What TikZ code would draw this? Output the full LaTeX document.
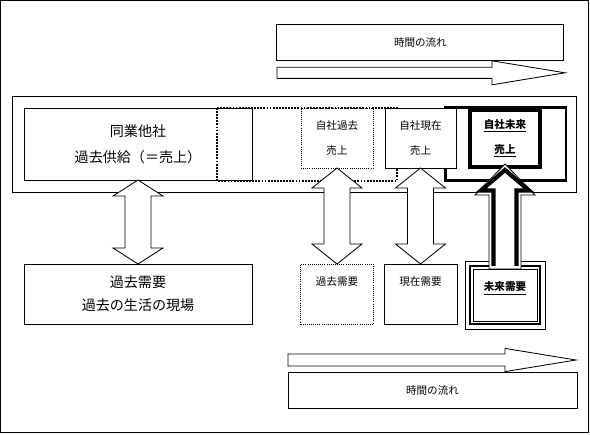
\documentclass[tikz,border=0pt]{standalone}
\usepackage{fontspec}
\setmainfont{Noto Sans CJK JP}
\usepackage{tikz}
\usetikzlibrary{calc}

% two-headed block arrow: upper tip, lower tip, head length
\newcommand{\twoway}[3]{%
  \draw[blockarrow] (#1) -- ($(#1)+(0.625,-#3)$) -- ($(#1)+(0.325,-#3)$)
    -- ($(#2)+(0.325,#3)$) -- ($(#2)+(0.625,#3)$) -- (#2)
    -- ($(#2)+(-0.625,#3)$) -- ($(#2)+(-0.325,#3)$)
    -- ($(#1)+(-0.325,-#3)$) -- ($(#1)+(-0.625,-#3)$) -- cycle;}

\begin{document}
\begin{tikzpicture}[
    font=\fontsize{7.5}{17.8}\selectfont,
    box/.style={draw, line width=0.6pt, fill=white, inner sep=0pt, outer sep=0pt, align=center},
    dotbox/.style={draw, line width=0.5pt, densely dotted, inner sep=0pt, outer sep=0pt, align=center},
    toptext/.style={text height=15.6pt, text depth=#1},
    blockarrow/.style={draw, line width=0.6pt, fill=white, line join=miter}
]
    \useasboundingbox (0,0) rectangle (14.75,-10.85);
    \draw[line width=0.6pt] (0.0125,-0.0125) rectangle (14.7,-10.8);

    % Time flow (top)
    \node[box, minimum width=7.175cm, minimum height=0.9cm] (ttop) at (10.51,-1.05) {時間の流れ};
    \draw[blockarrow] (6.925,-1.68) -- (12.3,-1.68) -- (12.3,-1.52) -- (14.125,-1.82)
        -- (12.3,-2.12) -- (12.3,-1.96) -- (6.925,-1.96) -- cycle;

    % Supply side
    \draw[line width=0.6pt] (0.3,-2.4125) rectangle (14.4,-4.8);
    \node[box, minimum width=5.7cm, minimum height=1.8cm, font=\fontsize{10}{18.5}\selectfont] (osha) at (3.45,-3.6) {同業他社\\過去供給（＝売上）};
    \draw[line width=2.1pt] (11.1375,-2.6875) rectangle (14.15,-4.5125);
    \draw[line width=1.3pt, dash pattern=on 1.3pt off 0.9pt] (5.425,-2.7) rectangle (9.925,-4.525);
    \node[dotbox, minimum width=1.8cm, minimum height=1.5cm] (jpast) at (8.425,-3.45) {自社過去\\売上};
    \node[box, minimum width=1.775cm, minimum height=1.5cm] (jnow) at (10.5125,-3.45) {自社現在\\売上};
    \node[box, line width=2.8pt, minimum width=1.75cm, minimum height=1.425cm] (fsales) at (12.625,-3.4625) {\textbf{\underline{自社未来}}\\\textbf{\underline{売上}}};

    % Demand side
    \node[box, minimum width=5.7cm, minimum height=1.5cm, font=\fontsize{10}{16.4}\selectfont] (pdem) at (3.45,-7.35) {過去需要\\過去の生活の現場};
    \node[dotbox, toptext=27.1pt, minimum width=1.825cm] (pdsm) at (8.425,-7.35) {過去需要};
    \node[box, toptext=27.1pt, minimum width=1.825cm] (ndem) at (10.5125,-7.35) {現在需要};
    \node[box, toptext=21.4pt, minimum width=1.6cm] (fdem) at (12.625,-7.375) {\textbf{\underline{未来需要}}};
    \draw[line width=1.3pt] ($(fdem.south west)+(-0.075,-0.075)$) rectangle ($(fdem.north east)+(0.075,0.075)$);
    \draw[line width=0.6pt] ($(fdem.south west)+(-0.2,-0.2)$) rectangle ($(fdem.north east)+(0.2,0.2)$);

    % Links
    \twoway{osha.south}{pdem.north}{0.4}
    \twoway{jpast.south}{pdsm.north}{0.5}
    \twoway{jnow.south}{ndem.north}{0.5}
    \draw[blockarrow] ($(fdem.north)+(-0.4,0)$) -- ($(fsales.south)+(-0.4,-0.7)$)
        -- ($(fsales.south)+(-0.75,-0.7)$) -- ($(fsales.south)+(0,0.075)$)
        -- ($(fsales.south)+(0.75,-0.7)$) -- ($(fsales.south)+(0.4,-0.7)$)
        -- ($(fdem.north)+(0.4,0)$) -- cycle;
    \draw[line width=3pt, line join=miter] ($(fdem.north)+(-0.2875,0.075)$) -- ($(fsales.south)+(-0.2875,-0.5875)$)
        -- ($(fsales.south)+(-0.6,-0.5875)$) -- ($(fsales.south)+(0,-0.075)$)
        -- ($(fsales.south)+(0.6,-0.5875)$) -- ($(fsales.south)+(0.2875,-0.5875)$)
        -- ($(fdem.north)+(0.2875,0.075)$);

    % Time flow (bottom)
    \draw[blockarrow] (7.2,-8.85) -- (12.625,-8.85) -- (12.625,-8.71) -- (14.4,-9.0)
        -- (12.625,-9.29) -- (12.625,-9.15) -- (7.2,-9.15) -- cycle;
    \node[box, minimum width=7.225cm, minimum height=0.9cm] (tbot) at (10.8125,-9.75) {時間の流れ};
\end{tikzpicture}
\end{document}
